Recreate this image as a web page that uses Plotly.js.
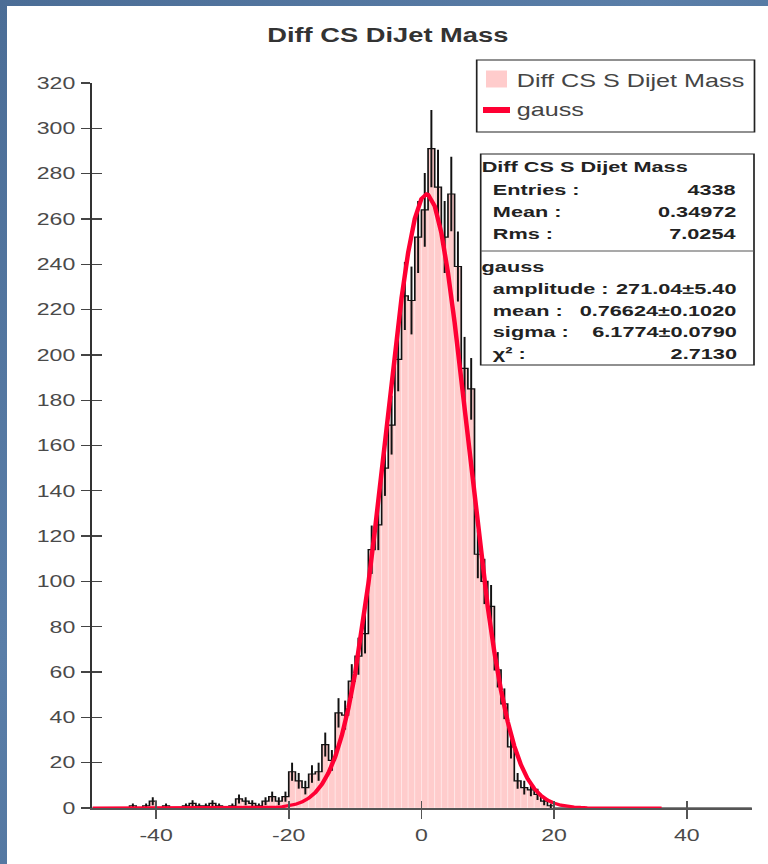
<!DOCTYPE html>
<html>
<head>
<meta charset="utf-8">
<script src="https://cdn.plot.ly/plotly-3.0.1.min.js"></script>
<style>
  html, body { margin: 0; padding: 0; width: 768px; height: 864px; overflow: hidden;
    background: linear-gradient(135deg, #4b6d96 0%, #5a7ea8 40%, #4e719a 70%, #5b7fa7 100%); }
  #chart { position: absolute; left: 7px; top: 6px; width: 544px; height: 858px;
    transform: scaleX(1.4); transform-origin: 0 0; background: #fff; }
</style>
</head>
<body>
<div id="chart"></div>
<script>
// ---- data ----
const binStart = -50;
const binWidth = 1;
const counts = [
  0, 0, 0, 0, 0, 0, 1, 0, 1, 3,
  0, 1, 0, 0, 1, 2, 1, 1, 2, 1,
  0, 1, 4, 3, 2, 1, 3, 5, 3, 5,
  16, 12, 9, 15, 16, 28, 21, 42, 41, 56,
  67, 77, 114, 125, 150, 169, 198, 226, 224, 252,
  264, 291, 274, 252, 271, 239, 194, 185, 112, 100,
  89, 61, 46, 27, 12, 9, 8, 6, 3, 1,
  0, 0, 0, 0, 0, 0, 0, 0, 0, 0,
  0, 0, 0, 0, 0, 0, 0, 0, 0, 0,
  0, 0, 0, 0, 0, 0, 0, 0, 0, 0
];
const gaussX = [-49.6, -30, -25, -24, -23, -22, -21, -20, -19, -18, -17, -16, -15, -14, -13, -12, -11, -10, -9, -8, -7, -6, -5, -4, -3, -2, -1, 0, 0.77,
  1, 2, 3, 4, 5, 6, 7, 8, 9, 10, 11, 12, 13, 14, 15, 16, 17, 18, 19, 20, 21, 22, 23, 24, 25, 30, 36.2];
const gaussY = [0, 0, 0.05, 0.09, 0.17, 0.31, 0.55, 0.95, 1.62, 2.69, 4.34, 6.82, 10.44, 15.57, 22.63, 32.03, 44.18, 59.36, 77.68, 99.03, 122.98, 148.77, 175.32, 201.27, 225.07, 245.19, 260.19, 268.96, 271.04,
  270.85, 265.69, 253.88, 236.33, 214.31, 189.29, 162.88, 136.54, 111.49, 88.68, 68.71, 51.86, 38.14, 27.31, 19.06, 12.95, 8.58, 5.53, 3.48, 2.13, 1.27, 0.74, 0.42, 0.24, 0.12, 0, 0];
const xTickVals = [-40, -20, 0, 20, 40];
const xTickText = ['-40', '-20', '0', '20', '40'];
const yTickVals = [0, 20, 40, 60, 80, 100, 120, 140, 160, 180, 200, 220, 240, 260, 280, 300, 320];

const titleText = 'Diff CS DiJet Mass';
const histName = 'Diff CS S Dijet Mass';
const fitName = 'gauss';
const statLabels = ['Entries :', 'Mean :', 'Rms :'];
const statValues = ['4338', '0.34972', '7.0254'];
const fitLabels = ['amplitude :', 'mean :', 'sigma :', 'χ² :'];
const fitValues = ['271.04±5.40', '0.76624±0.1020', '6.1774±0.0790', '2.7130'];

// ---- derived ----
const centers = counts.map((_, i) => binStart + binWidth * (i + 0.5));
const edges = counts.map((_, i) => binStart + binWidth * i).concat([binStart + binWidth * counts.length]);
const stepY = counts.concat([counts[counts.length - 1]]);
const errs = counts.map(v => Math.sqrt(v));

// ---- geometry helpers (page pixels -> paper coords) ----
const S = 1.4, DX = 7, DY = 6, W = 544, H = 858;
const M = { l: 61, r: 12, t: 77, b: 56 };
const PW = W - M.l - M.r, PH = H - M.t - M.b;
const xp = X => ((X - DX) / S - M.l) / PW;
const yp = Y => 1 - ((Y - DY) - M.t) / PH;

const xRange = [-49.6, 49.8];
const yRange = [0, 320];

const traces = [
  { type: 'bar', x: centers, y: counts, width: binWidth,
    marker: { color: '#ffcccc', line: { color: 'rgba(255,255,255,0.4)', width: 0.6 } },
    error_y: { type: 'data', array: errs, visible: true, color: '#111', thickness: 1.4, width: 0 },
    hoverinfo: 'skip', showlegend: false, name: histName },
  { type: 'scatter', mode: 'lines', x: edges, y: stepY,
    line: { color: '#111', width: 1.2, shape: 'hv' }, hoverinfo: 'skip', showlegend: false },
  { type: 'scatter', mode: 'lines', x: gaussX, y: gaussY, name: fitName,
    line: { color: '#ff0033', width: 3.2 }, hoverinfo: 'skip', showlegend: false },
  { type: 'scatter', mode: 'markers', x: [0], y: [0], xaxis: 'x2', yaxis: 'y2',
    marker: { opacity: 0 }, hoverinfo: 'skip', showlegend: false }
];

const tickFont = { family: 'Liberation Sans, Arial, sans-serif', size: 16.5, color: '#4a4a4a' };
const statFont = { family: 'Liberation Sans, Arial, sans-serif', size: 15.5, color: '#222' };
const legFont = { family: 'Liberation Sans, Arial, sans-serif', size: 18, color: '#444' };

const shapes = [
  { type: 'rect', xref: 'paper', yref: 'paper', x0: xp(476.7), x1: xp(754.5), y0: yp(60), y1: yp(132),
    line: { color: '#222', width: 1.2 }, fillcolor: '#fff' },
  { type: 'rect', xref: 'paper', yref: 'paper', x0: xp(486), x1: xp(507), y0: yp(70.5), y1: yp(87.5),
    line: { width: 0 }, fillcolor: '#ffcccc' },
  { type: 'line', xref: 'paper', yref: 'paper', x0: xp(483), x1: xp(510), y0: yp(110), y1: yp(110),
    line: { color: '#ff0033', width: 6 } },
  { type: 'rect', xref: 'paper', yref: 'paper', x0: xp(480.7), x1: xp(754), y0: yp(154), y1: yp(365),
    line: { color: '#222', width: 1.2 }, fillcolor: '#fff' },
  { type: 'line', xref: 'paper', yref: 'paper', x0: xp(480.7), x1: xp(754), y0: yp(251), y1: yp(251),
    line: { color: '#555', width: 1 } }
];

const ann = (text, X, Y, anchor, font) => ({ text, xref: 'paper', yref: 'paper', x: xp(X), y: yp(Y),
  xanchor: anchor, yanchor: 'middle', showarrow: false, font, borderpad: 0 });

const annotations = [
  ann(histName, 515, 80.5, 'left', legFont),
  ann(fitName, 515, 110.5, 'left', legFont),
  ann('<b>' + histName + '</b>', 480, 166.7, 'left', statFont),
  ann('<b>' + fitName + '</b>', 480, 266.7, 'left', statFont)
];
const statY = [189.3, 211.7, 233.3];
statLabels.forEach((t, i) => {
  annotations.push(ann('<b>' + t + '</b>', 492, statY[i], 'left', statFont));
  annotations.push(ann('<b>' + statValues[i] + '</b>', 738, statY[i], 'right', statFont));
});
const fitY = [288.3, 310, 331.7, 353.3];
fitLabels.forEach((t, i) => {
  annotations.push(ann('<b>' + t + '</b>', 492, fitY[i], 'left', statFont));
  annotations.push(ann('<b>' + fitValues[i] + '</b>', 738, fitY[i], 'right', statFont));
});

const layout = {
  width: W, height: H, margin: M,
  paper_bgcolor: '#fff', plot_bgcolor: '#fff',
  bargap: 0, showlegend: false,
  title: { text: '<b>' + titleText + '</b>', x: 0.5, xref: 'container', xanchor: 'center',
    y: 1 - 29 / H, yref: 'container', yanchor: 'middle',
    font: { family: 'Liberation Sans, Arial, sans-serif', size: 19.5, color: '#333' } },
  xaxis: { range: xRange, tickvals: xTickVals, ticktext: xTickText, ticks: 'outside', ticklen: 9,
    tickwidth: 1.2, tickcolor: '#555', showline: true, linecolor: '#555', linewidth: 1.5,
    showgrid: false, zeroline: false, tickfont: tickFont, ticklabelstandoff: 3 },
  yaxis: { range: yRange, tickvals: yTickVals, ticks: 'outside', ticklen: 6.5,
    tickwidth: 1.3, tickcolor: '#444', showline: true, linecolor: '#333', linewidth: 1.4,
    showgrid: false, zeroline: false, tickfont: tickFont, ticklabelstandoff: 1 },
  xaxis2: { overlaying: 'x', anchor: 'y2', range: xRange, tickvals: xTickVals, ticks: 'inside', ticklen: 7,
    tickwidth: 1.2, tickcolor: '#555', showticklabels: false, showline: false, showgrid: false, zeroline: false },
  yaxis2: { overlaying: 'y', anchor: 'x2', range: yRange, tickvals: yTickVals, ticks: 'inside', ticklen: 7,
    tickwidth: 1.3, tickcolor: '#444', showticklabels: false, showline: false, showgrid: false, zeroline: false },
  shapes, annotations
};

Plotly.newPlot('chart', traces, layout, { displayModeBar: false, staticPlot: true });
</script>
</body>
</html>
